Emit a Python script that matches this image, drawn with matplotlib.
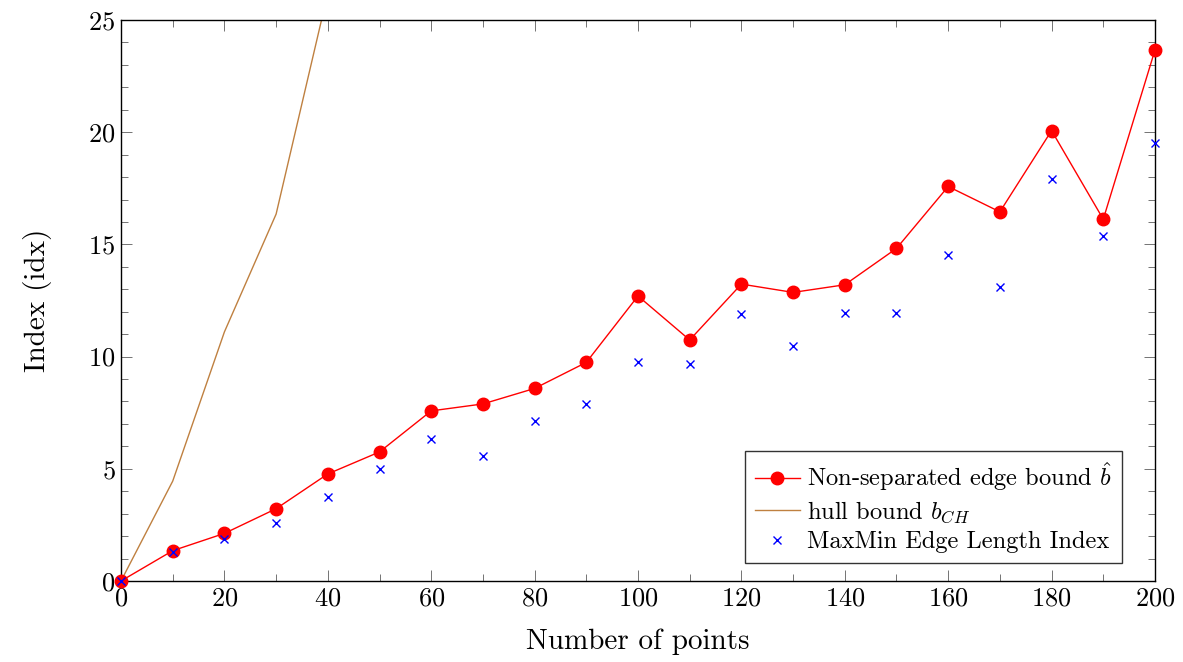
import numpy as np
import matplotlib
matplotlib.use('Agg')
import matplotlib.pyplot as plt
from matplotlib.ticker import MultipleLocator

plt.rcParams['font.family'] = ['cmr10']
plt.rcParams['mathtext.fontset'] = 'cm'
plt.rcParams['axes.formatter.use_mathtext'] = True

# data
n_points = [0, 10, 20, 30, 40, 50, 60, 70, 80, 90, 100,
            110, 120, 130, 140, 150, 160, 170, 180, 190, 200]
edge_bound = [0, 1.35, 2.12, 3.22, 4.77, 5.75, 7.58, 7.89, 8.58, 9.74, 12.7,
              10.74, 13.23, 12.86, 13.2, 14.82, 17.58, 16.45, 20.07, 16.12, 23.66]
maxmin_idx = [0, 1.3, 1.85, 2.58, 3.74, 4.99, 6.33, 5.57, 7.13, 7.9, 9.76,
              9.69, 11.9, 10.47, 11.94, 11.94, 14.53, 13.12, 17.9, 15.37, 19.52]
hull_x = [0, 10, 20, 30, 40]
hull_bound = [0, 4.45, 11.1, 16.35, 26.2]

fig = plt.figure(figsize=(11.83, 6.62), dpi=100)
ax = fig.add_axes([0.1023, 0.1224, 0.8740, 0.8474])

ax.plot(n_points, edge_bound, color='red', lw=1.0, marker='o', markersize=9,
        label=r'Non-separated edge bound $\hat{b}$', zorder=3, clip_on=False)
ax.plot(hull_x, hull_bound, color='#bf8040', lw=1.0, label=r'hull bound $b_{CH}$', zorder=2)
ax.plot(n_points, maxmin_idx, color='blue', lw=0, marker='x', markersize=6,
        markeredgewidth=1.0, label='MaxMin Edge Length Index', zorder=4, clip_on=False)

ax.set_xlim(0, 200)
ax.set_ylim(0, 25)
ax.xaxis.set_major_locator(MultipleLocator(20))
ax.xaxis.set_minor_locator(MultipleLocator(10))
ax.yaxis.set_major_locator(MultipleLocator(5))
ax.yaxis.set_minor_locator(MultipleLocator(1))
ax.tick_params(which='both', direction='in', top=True, right=True,
               color='0.45', width=0.7, labelsize=19)
ax.tick_params(which='major', length=8, pad=4)
ax.tick_params(which='minor', length=5)
for s in ax.spines.values():
    s.set_linewidth(1.0)

ax.set_xlabel('Number of points', fontsize=21, labelpad=13)
ax.set_ylabel('Index (idx)', fontsize=21, labelpad=26)

leg = ax.legend(loc='lower right', bbox_to_anchor=(0.968, 0.032), borderaxespad=0,
                fontsize=17.6, frameon=True, fancybox=False, framealpha=1,
                edgecolor='0.2', handlelength=1.85, handletextpad=0.3,
                borderpad=0.4, labelspacing=0.25)
leg.get_frame().set_linewidth(1.0)

fig.savefig('out.png', dpi=100)
